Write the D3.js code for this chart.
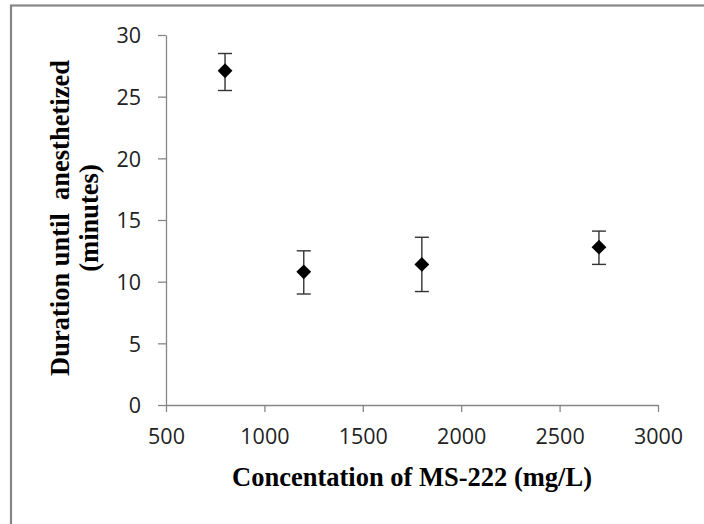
<!DOCTYPE html>
<html><head><meta charset="utf-8">
<script src="https://cdn.jsdelivr.net/npm/d3@7"></script>
<style>body{margin:0;background:#fff}</style>
</head><body>
<script>
const concentrations = [800, 1200, 1800, 2700];
const durations = [27.1, 10.8, 11.4, 12.8];
const errLow = [25.5, 9.0, 9.2, 11.4];
const errHigh = [28.5, 12.5, 13.6, 14.1];
const xTicks = [500, 1000, 1500, 2000, 2500, 3000];
const yTicks = [0, 5, 10, 15, 20, 25, 30];

const W = 704, H = 524;
const svg = d3.select("body").append("svg").attr("width", W).attr("height", H);
svg.append("rect").attr("x", 11).attr("y", 5.5).attr("width", 720).attr("height", 540)
  .attr("fill", "#fff").attr("stroke", "#868686").attr("stroke-width", 2.2);

const x = d3.scaleLinear().domain([500, 3000]).range([166, 658]);
const y = d3.scaleLinear().domain([0, 30]).range([405, 35]);

const axisColor = "#868686";
const tickFont = "Open Sans, sans-serif";

const xAxis = svg.append("g").attr("transform", "translate(0,405)")
  .call(d3.axisBottom(x).tickValues(xTicks).tickSize(7).tickSizeOuter(0).tickPadding(17).tickFormat(d3.format("d")));
const yAxis = svg.append("g").attr("transform", "translate(166,0)")
  .call(d3.axisLeft(y).tickValues(yTicks).tickSize(8).tickSizeOuter(0).tickPadding(17).tickFormat(d3.format("d")));
[xAxis, yAxis].forEach(a => {
  a.select(".domain").attr("stroke", axisColor).attr("stroke-width", 1.3);
  a.selectAll(".tick line").attr("stroke", axisColor).attr("stroke-width", 1.3);
  a.selectAll(".tick text").attr("font-family", tickFont).attr("font-size", 21.5).attr("fill", "#222");
});
xAxis.selectAll(".tick text").attr("dy", "0.72em");
yAxis.selectAll(".tick text").attr("dy", "0.36em");

const data = concentrations.map((c, i) => ({c, v: durations[i], lo: errLow[i], hi: errHigh[i]}));
const g = svg.append("g");
const eb = g.selectAll(".eb").data(data).enter().append("g").attr("stroke", "#333").attr("stroke-width", 1.4);
eb.append("line").attr("x1", d => x(d.c)).attr("x2", d => x(d.c)).attr("y1", d => y(d.lo)).attr("y2", d => y(d.hi));
eb.append("line").attr("x1", d => x(d.c) - 7).attr("x2", d => x(d.c) + 7).attr("y1", d => y(d.lo)).attr("y2", d => y(d.lo));
eb.append("line").attr("x1", d => x(d.c) - 7).attr("x2", d => x(d.c) + 7).attr("y1", d => y(d.hi)).attr("y2", d => y(d.hi));

g.selectAll(".pt").data(data).enter().append("path")
  .attr("d", d3.symbol(d3.symbolSquare, 110))
  .attr("transform", d => `translate(${x(d.c)},${y(d.v)}) rotate(45)`)
  .attr("fill", "#000");

svg.append("text").attr("x", 412).attr("y", 486).attr("text-anchor", "middle")
  .attr("font-family", "Liberation Serif, serif").attr("font-weight", "bold").attr("font-size", 26.5)
  .text("Concentation of MS-222 (mg/L)");

const yt = svg.append("text").attr("transform", "translate(69,218) rotate(-90)").attr("text-anchor", "middle")
  .attr("font-family", "Liberation Serif, serif").attr("font-weight", "bold").attr("font-size", 26.5);
yt.append("tspan").attr("x", 0).attr("y", 0).style("white-space", "pre").text("Duration until  anesthetized");
yt.append("tspan").attr("x", 0).attr("y", 29).text("(minutes)");
</script>
</body></html>
